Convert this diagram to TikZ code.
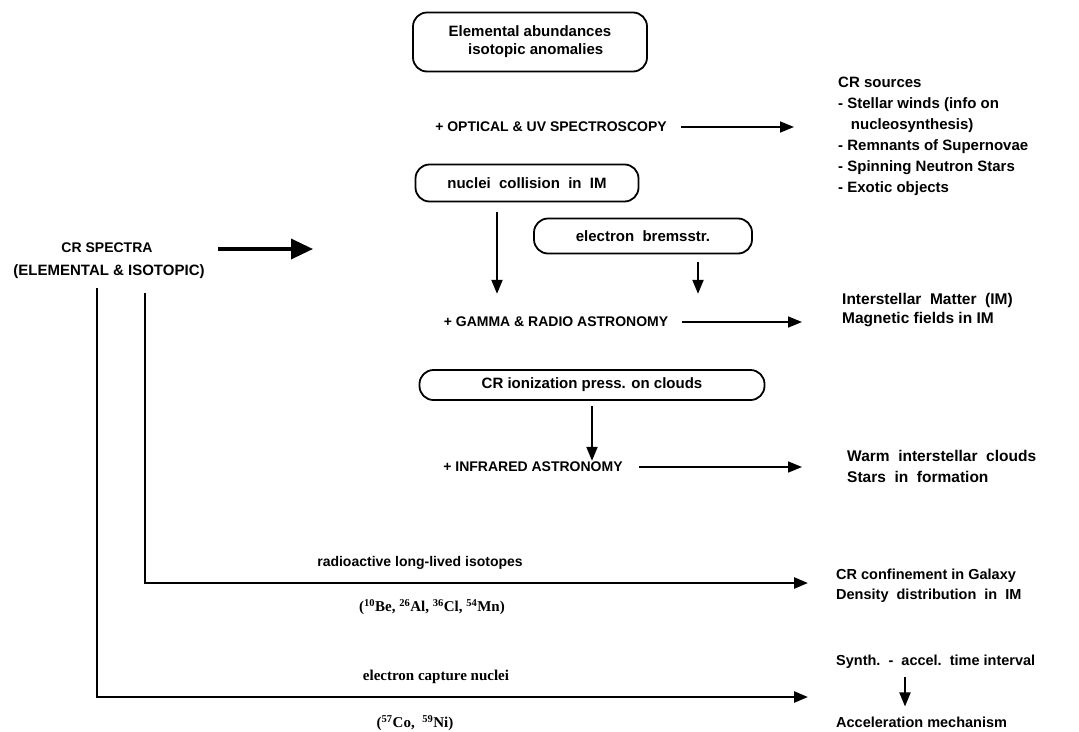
\documentclass[tikz,border=0pt]{standalone}
\usepackage{fontspec}
\setmainfont{Liberation Sans}
\newfontfamily\isofont{Liberation Serif}
\usetikzlibrary{arrows.meta}

\tikzset{
  rbox/.style={draw,line width=1.8pt,rounded corners=14pt,inner sep=0pt,
    font=\bfseries\fontsize{15}{18}\selectfont},
  caps/.style={font=\bfseries\fontsize{14}{17}\selectfont,inner sep=0pt},
  side/.style={font=\bfseries\fontsize{15}{21}\selectfont,align=left,anchor=west,inner sep=0pt},
  iso/.style={font=\isofont\bfseries\fontsize{15}{18}\selectfont,inner sep=0pt},
  arr/.style={-{Triangle[length=14pt,width=11pt]},line width=1.6pt},
  bigarr/.style={-{Triangle[length=22pt,width=20pt]},line width=3.5pt},
  lline/.style={-{Triangle[length=14pt,width=11pt]},line width=2.6pt},
}

\begin{document}
\begin{tikzpicture}[x=1pt,y=-1pt]
\useasboundingbox[fill=white] (0,0) rectangle (1079,731);

% middle column
\node[rbox,minimum width=234pt,minimum height=59pt,align=left] (EA) at (530,42)
  {Elemental abundances\\\hspace*{1.3em}isotopic anomalies};
\node[caps] (OPT) at (551,127) {+ OPTICAL \& UV SPECTROSCOPY};
\node[rbox,minimum width=223pt,minimum height=37pt] (NC) at (527,183) {nuclei\ \ collision\ \ in\ \ IM};
\node[rbox,minimum width=218pt,minimum height=35pt] (EB) at (643,236) {electron\ \ bremsstr.};
\node[caps] (GR) at (556,322) {+ GAMMA \& RADIO ASTRONOMY};
\node[rbox,minimum width=345pt,minimum height=30pt] (CI) at (592,385) {CR ionization press. on clouds};
\node[caps] (IR) at (533,467) {+ INFRARED ASTRONOMY};

% left
\node[caps,font=\bfseries\fontsize{14}{17}\selectfont] (CR1) at (107,248) {CR SPECTRA};
\node[caps,font=\bfseries\fontsize{15}{17}\selectfont] (CR2) at (109,272) {(ELEMENTAL \& ISOTOPIC)};
\coordinate (SP) at (313,249);

% right column
\node[side] (SRC) at (838,136) {CR sources\\- Stellar winds (info on\\\hspace*{0.85em}nucleosynthesis)\\- Remnants of Supernovae\\- Spinning Neutron Stars\\- Exotic objects};
\node[side,font=\bfseries\fontsize{15.5}{19}\selectfont] (ISM) at (842,310) {Interstellar\ \ Matter\ \ (IM)\\Magnetic fields in IM};
\node[side,font=\bfseries\fontsize{15.5}{21}\selectfont] (WRM) at (847,466) {Warm\ \ interstellar\ \ clouds\\Stars\ \ in\ \ formation};
\node[side,font=\bfseries\fontsize{14.5}{20}\selectfont] (CNF) at (836,586) {CR confinement in Galaxy\\Density\ \ distribution\ \ in\ \ IM};
\node[side,font=\bfseries\fontsize{14.5}{18}\selectfont] (SYN) at (836,662) {Synth.\ \ -\ \ accel.\ \ time interval};
\node[side,font=\bfseries\fontsize{14.5}{18}\selectfont] (ACC) at (836,722) {Acceleration mechanism};

% bottom lines
\coordinate (L2) at (145,583);
\coordinate (T1) at (808,583);
\coordinate (L1) at (97,697);
\coordinate (T2) at (808,697);
\node[font=\bfseries\fontsize{14}{17}\selectfont] (RAD) at (420,563) {radioactive long-lived isotopes};
\node[iso] (ISO) at (432,607) {(\textsuperscript{10}Be, \textsuperscript{26}Al, \textsuperscript{36}Cl, \textsuperscript{54}Mn)};
\node[iso] (ECN) at (436,677) {electron capture nuclei};
\node[iso] (CONI) at (415,723) {(\textsuperscript{57}Co,\ \ \textsuperscript{59}Ni)};
\coordinate (X) at (905,690);

% arrows
\draw[arr,shorten >=44pt] ([xshift=14pt]OPT.east) -- (OPT.east -| SRC.west);
\draw[arr,line width=2pt,shorten <=10pt,shorten >=23pt] (NC.south -| 497,0) -- (GR.north -| 497,0);
\draw[arr,line width=2pt,shorten <=8pt,shorten >=23pt] (EB.south -| 698,0) -- (GR.north -| 698,0);
\draw[arr,shorten >=40pt] ([xshift=14pt]GR.east) -- (GR.east -| ISM.west);
\draw[arr,line width=2pt,shorten <=5pt,shorten >=1pt] (CI.south) -- (CI.south |- IR.north);
\draw[arr,shorten >=45pt] ([xshift=16pt]IR.east) -- (IR.east -| WRM.west);
\draw[bigarr] ([xshift=13pt]CR2.east |- SP) -- (SP);
\draw[lline] (CR2.south -| L2) ++(0,14) -- (L2) -- (T1);
\draw[lline] (CR2.south -| L1) ++(0,9) -- (L1) -- (T2);
\draw[arr,line width=2pt,shorten <=8pt,shorten >=10pt] (SYN.south -| X) -- (ACC.north -| X);
\end{tikzpicture}
\end{document}
